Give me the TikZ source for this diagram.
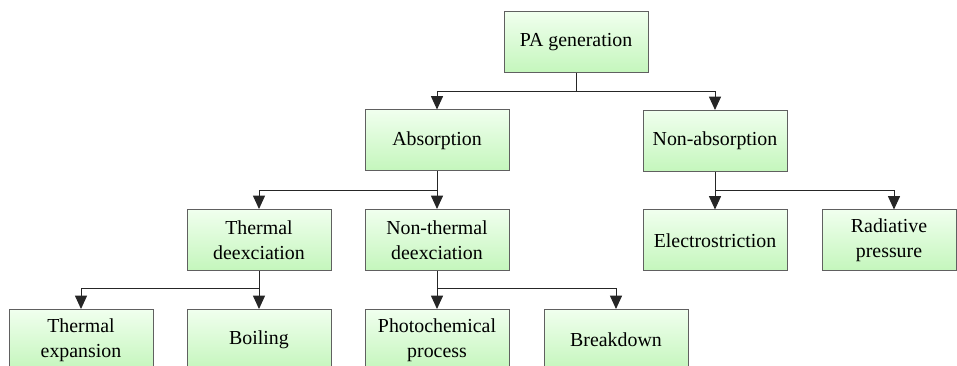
\documentclass[tikz,border=0pt]{standalone}
\usepackage{fontspec}
\setmainfont{Liberation Serif}
\usetikzlibrary{arrows.meta}

\definecolor{boxtop}{RGB}{240,255,238}
\definecolor{boxbot}{RGB}{196,246,188}
\definecolor{boxline}{RGB}{96,96,96}

\begin{document}
\begin{tikzpicture}[x=0.75pt,y=0.75pt,yscale=-1,xscale=1,
	box/.style={draw=boxline, line width=0.75pt, top color=boxtop, bottom color=boxbot,
		minimum width=108pt, minimum height=45.75pt, inner sep=1pt, align=center,
		font=\fontsize{14.9}{18.8}\selectfont},
	conn/.style={line width=0.75pt, color=black!85, -{Triangle[length=10pt,width=9pt]}}]
	\useasboundingbox (0,0) rectangle (957,366);

	% level 0
	\node [box] (pa) at (576,42.5) {PA generation};
	% level 1
	\node [box] (abs) at (437,140.5) {Absorption};
	\node [box] (nab) at (715,141) {Non-absorption};
	% level 2
	\node [box] (thd) at (259,240) {Thermal\\deexciation};
	\node [box] (ntd) at (437,240) {Non-thermal\\deexciation};
	\node [box] (el) at (715,240.5) {Electrostriction};
	\node [box, minimum width=100.5pt] (rad) at (889,240.5) {Radiative\\pressure};
	% level 3, cut off by the lower edge
	\node [box] (tex) at (81,340) {Thermal\\expansion};
	\node [box] (boil) at (259,340) {Boiling};
	\node [box] (pho) at (437,340) {Photochemical\\process};
	\node [box] (brk) at (616,340) {Breakdown};

	% Connectors
	\draw [conn] (pa.south) -- ++(0,18) -| (abs.north);
	\draw [conn] (pa.south) -- ++(0,18) -| (nab.north);
	\draw [conn] (abs.south) -- ++(0,19) -| (thd.north);
	\draw [conn] (abs.south) -- (ntd.north);
	\draw [conn] (nab.south) -- (el.north);
	\draw [conn] (nab.south) -- ++(0,19) -| ([xshift=3.75pt]rad.north);
	\draw [conn] (thd.south) -- ++(0,18) -| (tex.north);
	\draw [conn] (thd.south) -- (boil.north);
	\draw [conn] (ntd.south) -- (pho.north);
	\draw [conn] (ntd.south) -- ++(0,18) -| (brk.north);

\end{tikzpicture}
\end{document}
